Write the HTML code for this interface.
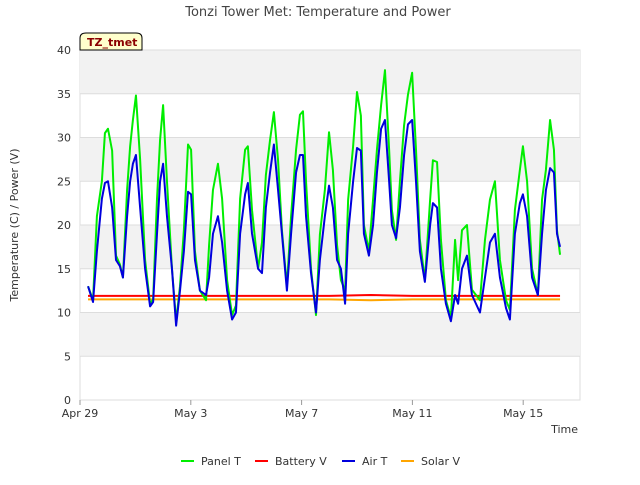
<!DOCTYPE html>
<html><head><meta charset="utf-8"><style>
body{margin:0;background:#fff;font-family:"Liberation Sans","DejaVu Sans",sans-serif;}
svg text{font-family:"DejaVu Sans","Liberation Sans",sans-serif;}
</style></head><body>
<svg id="chart" width="640" height="480">
<text x="318" y="16" text-anchor="middle" font-size="13" fill="#444">Tonzi Tower Met: Temperature and Power</text>
<g id="bg"></g><g id="grid"></g><g id="axes"></g><g id="series"></g>
<g>
<path d="M80,50 L80,38 Q80,33 86,33 L136,33 Q142,33 142,38 L142,50 Z" fill="#ffffcc" stroke="#000" stroke-width="1"/>
<text x="87" y="46" font-size="11" font-weight="bold" fill="#8b0000">TZ_tmet</text></g>
<text x="18" y="225" transform="rotate(-90 18 225)" text-anchor="middle" font-size="11" fill="#333">Temperature (C) / Power (V)</text>
<text x="578" y="433" text-anchor="end" font-size="11" fill="#333">Time</text>
<g id="legend"></g>
</svg>
<script>
const yTicks=[0,5,10,15,20,25,30,35,40];
const xTickDays=[0,4,8,12,16];
const xTickLabels=["Apr 29","May 3","May 7","May 11","May 15"];
const days=[0.29,0.47,0.61,0.79,0.90,1.01,1.16,1.30,1.44,1.55,1.70,1.81,1.91,2.02,2.17,2.35,2.53,2.64,2.78,2.89,3.00,3.14,3.32,3.47,3.61,3.75,3.90,4.01,4.15,4.33,4.55,4.66,4.80,4.98,5.13,5.31,5.49,5.63,5.78,5.96,6.06,6.21,6.43,6.57,6.71,6.86,7.00,7.15,7.29,7.47,7.62,7.80,7.94,8.05,8.16,8.34,8.52,8.66,8.84,8.99,9.13,9.28,9.42,9.57,9.68,9.86,10.00,10.14,10.25,10.43,10.58,10.72,10.87,11.01,11.16,11.26,11.41,11.55,11.70,11.84,11.99,12.13,12.27,12.45,12.64,12.74,12.89,13.03,13.21,13.39,13.54,13.65,13.79,13.97,14.15,14.44,14.62,14.80,14.98,15.16,15.38,15.52,15.70,15.88,15.99,16.14,16.32,16.53,16.68,16.82,16.97,17.11,17.22,17.33];
const panelT=[13,11.4,21,25,30.5,31,28.5,16.5,15.5,14,24,29,32,34.8,27.5,16,11,11.5,23,29.7,33.7,25,15,9,13,19.4,29.2,28.6,17,12.5,11.4,17.7,24,27,23,13.7,9.7,10.8,23,28.6,29,21.7,15,18,25.7,29.7,32.9,27.4,19.4,13,21,28.6,32.6,33,25,15,9.7,18.9,24,30.6,26.3,17.7,13.7,12.5,22.9,29,35.2,32.5,20,17,22.9,28.6,33.7,37.7,28.6,21.7,18.3,25,31.4,34.9,37.4,28.6,18.3,13.7,22.9,27.4,27.2,18.3,11.4,9.4,18.3,13.7,19.4,20,12.6,11.4,18.3,22.9,25,16,11.4,10.3,21.7,26.3,29,25,15,12,22.9,26.3,32,28.6,19.4,16.6];
const airT=[13,11.2,17,23,24.8,25,22,16,15.3,14,21,25,27,28,22,15,10.7,11.2,19,25,27,21,15,8.5,12.5,17,23.8,23.5,16,12.5,12,14,19,21,18,12.5,9.2,10,19,23.5,24.8,19,15,14.5,22,26,29.2,24,19,12.5,19,26,28,28,21,14.5,10,16,21,24.5,22,16,15,11,19,25,28.8,28.5,19,16.5,20,26,31,32,25,20,18.5,22,28,31.5,32,25,17,13.5,20,22.5,22,15,11,9,12,11,15,16.5,12,10,14,18,19,14,10.5,9.2,19,22.5,23.5,21,14,12,19,24,26.5,26,19,17.5];
const battDays=[0.29,3,6,9,10.5,12,14.5,17.33];
const battV=[11.9,11.9,11.9,11.9,12.0,11.9,11.9,11.9];
const solarDays=[0.29,6,9,10.5,12,17.33];
const solarV=[11.5,11.5,11.5,11.4,11.5,11.5];
const X=d=>80+d*27.7, Y=v=>400-v*8.75;
const ns="http://www.w3.org/2000/svg";
function mk(t,a,p){const e=document.createElementNS(ns,t);for(const k in a)e.setAttribute(k,a[k]);p.appendChild(e);return e;}
const bg=document.getElementById('bg');
mk('rect',{x:80,y:50,width:500,height:350,fill:'#fff',stroke:'#ddd'},bg);
for(let i=0;i<yTicks.length-1;i++){if(i%2==1){const r=mk('rect',{x:80,y:Y(yTicks[i+1]),width:500,height:Y(yTicks[i])-Y(yTicks[i+1]),fill:'#f2f2f2'},bg);

}}
const grid=document.getElementById('grid'),axes=document.getElementById('axes');
yTicks.forEach(v=>{mk('line',{x1:80,x2:580,y1:Y(v),y2:Y(v),stroke:'#ddd'},grid);
const t=mk('text',{x:71,y:Y(v)+4,'text-anchor':'end','font-size':11,fill:'#333'},axes);t.textContent=v;

});
xTickDays.forEach((d,i)=>{mk('line',{x1:X(d),x2:X(d),y1:400,y2:405,stroke:'#999'},axes);
const t=mk('text',{x:X(d),y:417,'text-anchor':'middle','font-size':11,fill:'#333'},axes);t.textContent=xTickLabels[i];

});
const s=document.getElementById('series');
function line(xs,ys,c,name){const p=mk('polyline',{points:xs.map((d,i)=>X(d)+','+Y(ys[i])).join(' '),fill:'none',stroke:c,'stroke-width':2,'stroke-linejoin':'round'},s);

}
line(solarDays,solarV,'#ffa500','solar-v-line');
line(battDays,battV,'#ff0000','battery-v-line');
line(days,panelT,'#00ee00','panel-t-line');
line(days,airT,'#0000dd','air-t-line');
const lg=document.getElementById('legend');
[["Panel T","#00ee00",181],["Battery V","#ff0000",255],["Air T","#0000dd",342],["Solar V","#ffa500",401]].forEach(e=>{
const g=mk('g',{},lg);


mk('line',{x1:e[2],x2:e[2]+13,y1:461,y2:461,stroke:e[1],'stroke-width':2},g);
const t=mk('text',{x:e[2]+20,y:465,'font-size':11,fill:'#333'},g);t.textContent=e[0];});
</script>
</body></html>
